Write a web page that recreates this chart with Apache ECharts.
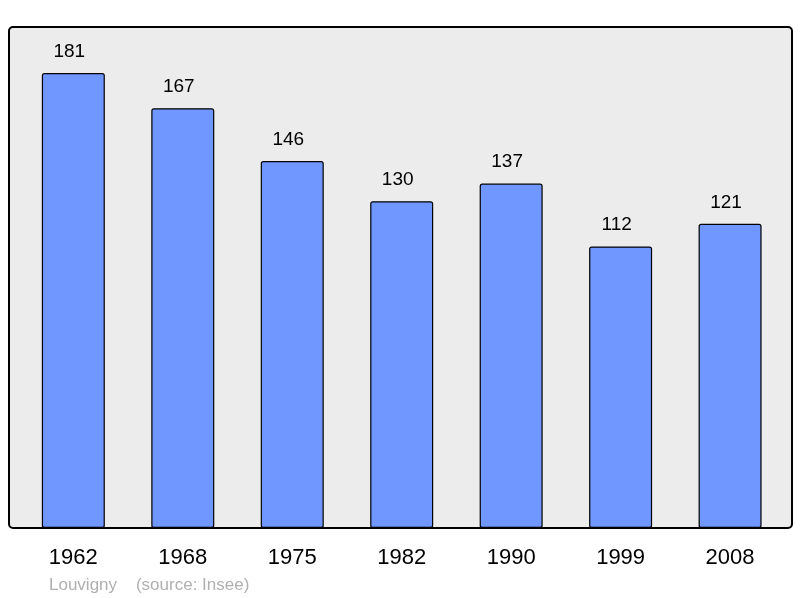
<!DOCTYPE html>
<html>
<head>
<meta charset="utf-8">
<script src="https://cdn.jsdelivr.net/npm/echarts@6/dist/echarts.min.js"></script>
<style>html,body{margin:0;padding:0;background:#fff}#c{width:800px;height:598px}</style>
</head>
<body>
<div id="c"></div>
<script>
var years = ['1962','1968','1975','1982','1990','1999','2008'];
var population = [181,167,146,130,137,112,121];
var town = 'Louvigny';
var source = '(source: Insee)';

var chart = echarts.init(document.getElementById('c'), null, {renderer:'canvas'});
chart.setOption({
  animation: false,
  backgroundColor: '#ffffff',
  graphic: [
    {type:'rect', z:-10, shape:{x:9, y:27, width:783, height:501, r:4},
     style:{fill:'#ececec', stroke:'#000', lineWidth:2}},
    {type:'text', left:49, top:577, style:{text: town + '    ' + source, fill:'#b0b0b0', font:'17px "Liberation Sans", Arial, sans-serif'}}
  ],
  grid: {left:18.6, right:15.2, top:27, bottom:70},
  xAxis: {
    type:'category', data: years,
    axisLine:{show:false}, axisTick:{show:false},
    axisLabel:{color:'#000', fontSize:22, fontFamily:'"Liberation Sans", Arial, sans-serif', margin:19}
  },
  yAxis: {type:'value', min:0, max:199.3, show:false, splitLine:{show:false}},
  series: [{
    type:'bar', data: population, barWidth:63,
    itemStyle:{color:'#7097ff', borderColor:'#000', borderWidth:1.2, borderRadius:2},
    label:{show:true, position:'top', distance:12, offset:[-4,0], color:'#000', fontSize:19, fontFamily:'"Liberation Sans", Arial, sans-serif'}
  }]
});
</script>
</body>
</html>
